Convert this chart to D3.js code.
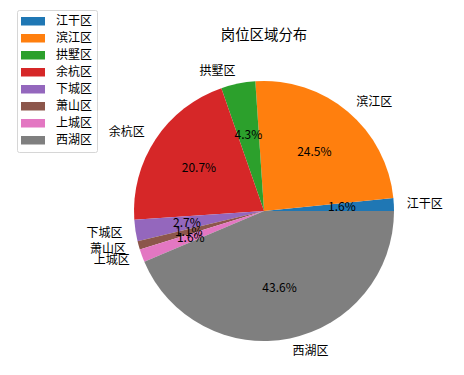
<!DOCTYPE html>
<html>
<head>
<meta charset="utf-8">
<script src="https://cdn.jsdelivr.net/npm/d3@7"></script>
<style>
  body { margin: 0; background: #fff; }
  text { font-family: "Noto Sans CJK SC", "DejaVu Sans", sans-serif; }
</style>
</head>
<body>
<div id="chart"></div>
<script>
// districts and job counts
const districts = ["江干区", "滨江区", "拱墅区", "余杭区", "下城区", "萧山区", "上城区", "西湖区"];
const counts = [3, 46, 8, 39, 5, 2, 3, 82];
const colors = ["#1f77b4", "#ff7f0e", "#2ca02c", "#d62728", "#9467bd", "#8c564b", "#e377c2", "#7f7f7f"];
const title = "岗位区域分布";

const W = 464, H = 375;
const cx = 264, cy = 211, r = 130;

const svg = d3.select("#chart").append("svg")
    .attr("width", W)
    .attr("height", H);

const total = d3.sum(counts);
const data = districts.map((d, i) => ({name: d, value: counts[i]}));

// matplotlib style: start at 3 o'clock, counterclockwise
const pie = d3.pie().value(d => d.value).sort(null)
    .startAngle(Math.PI / 2)
    .endAngle(Math.PI / 2 - 2 * Math.PI);

const arcs = pie(data);
const arc = d3.arc().innerRadius(0).outerRadius(r);

const g = svg.append("g").attr("transform", `translate(${cx},${cy})`);

g.selectAll("path")
  .data(arcs)
  .join("path")
    .attr("d", arc)
    .attr("fill", (d, i) => colors[i]);

// mid angle in d3 convention (0 = up, clockwise)
function pos(d, f) {
    const a = (d.startAngle + d.endAngle) / 2;
    return [Math.sin(a) * r * f, -Math.cos(a) * r * f];
}

// outer labels
g.selectAll("text.lab")
  .data(arcs)
  .join("text")
    .attr("class", "lab")
    .attr("x", d => pos(d, 1.1)[0])
    .attr("y", d => pos(d, 1.1)[1])
    .attr("dy", "0.35em")
    .attr("text-anchor", d => pos(d, 1.1)[0] > 0 ? "start" : "end")
    .attr("font-size", 12)
    .attr("fill", "#000")
    .text(d => d.data.name);

// percentages
g.selectAll("text.pct")
  .data(arcs)
  .join("text")
    .attr("class", "pct")
    .attr("x", d => pos(d, 0.6)[0])
    .attr("y", d => pos(d, 0.6)[1])
    .attr("dy", "0.35em")
    .attr("text-anchor", "middle")
    .attr("font-size", 12)
    .attr("fill", "#000")
    .text(d => (d.data.value / total * 100).toFixed(1) + "%");

// title
svg.append("text")
    .attr("x", cx)
    .attr("y", 35)
    .attr("dy", "0.35em")
    .attr("text-anchor", "middle")
    .attr("font-size", 14.4)
    .attr("fill", "#000")
    .text(title);

// legend
const legend = svg.append("g").attr("transform", "translate(17,10)");
legend.append("rect")
    .attr("x", 0.5).attr("y", 0.5)
    .attr("width", 80).attr("height", 142)
    .attr("rx", 2)
    .attr("fill", "#fff")
    .attr("fill-opacity", 0.8)
    .attr("stroke", "#d6d6d6");

const item = legend.selectAll("g.item")
  .data(districts)
  .join("g")
    .attr("class", "item")
    .attr("transform", (d, i) => `translate(0,${11 + i * 17})`);

item.append("rect")
    .attr("x", 4).attr("y", -4)
    .attr("width", 24).attr("height", 8.5)
    .attr("fill", (d, i) => colors[i]);

item.append("text")
    .attr("x", 39)
    .attr("dy", "0.35em")
    .attr("font-size", 12)
    .attr("fill", "#000")
    .text(d => d);
</script>
</body>
</html>
